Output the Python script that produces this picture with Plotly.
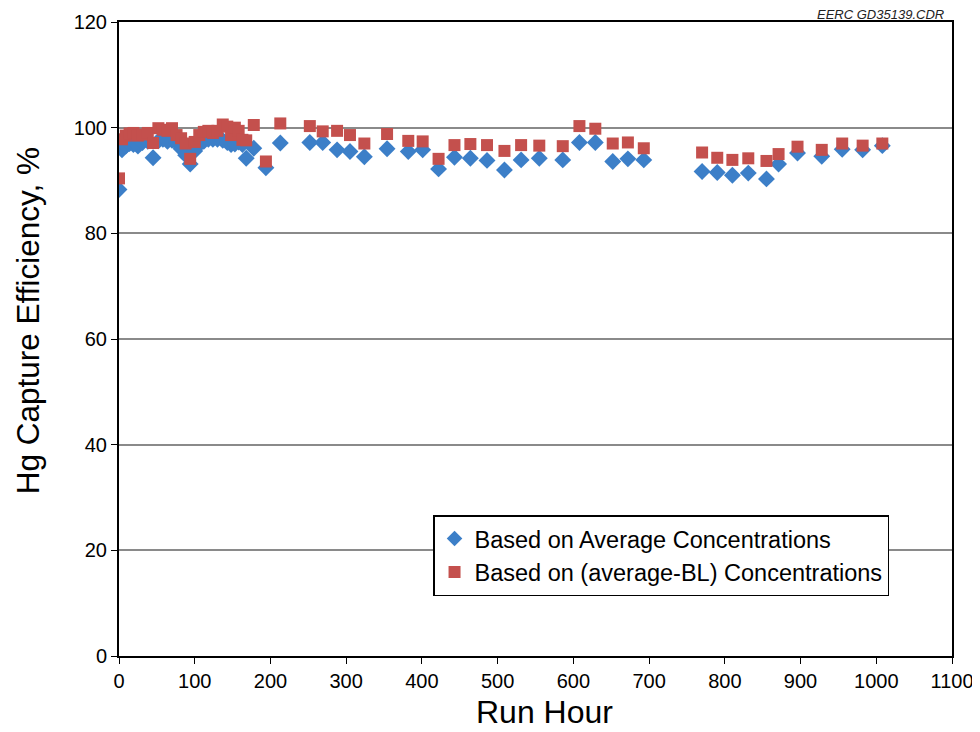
import plotly.graph_objects as go

# Run hours (shared by both series)
run_hour = [0, 4, 9, 14, 19, 25, 31, 38, 45, 52, 58, 64, 70, 76, 82, 88, 94, 100,
            106, 112, 118, 124, 130, 137, 143, 148, 153, 158, 163, 168, 178, 194, 213,
            252, 269, 288, 305, 324, 354, 382, 401, 422, 443, 464, 486, 509, 531, 555,
            586, 608, 629, 652, 672, 693, 770, 790, 810, 831, 855, 871, 896, 928, 955,
            982, 1008]

# Based on average concentrations (%)
eff_avg = [88.3, 95.8, 96.5, 97.0, 96.8, 96.5, 97.2, 97.4, 94.3, 97.5, 97.8, 97.4,
           97.6, 97.2, 96.0, 94.8, 93.1, 95.6, 96.8, 97.4, 97.8, 97.8, 97.8, 97.6,
           97.2, 96.8, 96.9, 97.3, 96.8, 94.2, 96.1, 92.4, 97.1,
           97.2, 97.2, 95.8, 95.5, 94.5, 96.0, 95.5, 95.8, 92.2, 94.4, 94.2, 93.8,
           92.0, 93.9, 94.2, 93.9, 97.2, 97.2, 93.6, 94.1, 93.9, 91.7, 91.5, 91.0,
           91.4, 90.3, 93.1, 95.2, 94.6, 95.9, 95.8, 96.6]

# Based on (average - BL) concentrations (%)
eff_bl = [90.4, 97.8, 98.5, 98.9, 99.0, 98.5, 98.7, 99.0, 97.1, 99.9, 99.6, 99.4,
          99.9, 98.6, 98.0, 97.0, 94.1, 97.3, 98.6, 99.2, 99.4, 99.0, 99.4, 100.6,
          100.2, 98.6, 100.0, 99.4, 97.7, 97.6, 100.5, 93.6, 100.8,
          100.3, 99.3, 99.4, 98.6, 97.0, 98.8, 97.5, 97.4, 94.1, 96.7, 96.9, 96.7,
          95.6, 96.7, 96.6, 96.5, 100.3, 99.8, 97.0, 97.2, 96.1, 95.3, 94.3, 93.9,
          94.2, 93.7, 95.0, 96.4, 95.8, 97.0, 96.6, 97.0]

x_ticks = [0, 100, 200, 300, 400, 500, 600, 700, 800, 900, 1000, 1100]
y_ticks = [0, 20, 40, 60, 80, 100, 120]

BLUE = "#3C7FC8"
RED = "#C4504D"
FONT = "Liberation Sans, Arial, sans-serif"

fig = go.Figure()
fig.add_trace(go.Scatter(
    x=run_hour, y=eff_avg, mode="markers", name="Based on Average Concentrations",
    marker=dict(symbol="diamond", size=13, color=BLUE, line=dict(width=0)),
))
fig.add_trace(go.Scatter(
    x=run_hour, y=eff_bl, mode="markers", name="Based on (average-BL) Concentrations",
    marker=dict(symbol="square", size=12, color=RED, line=dict(width=0)),
))

# page body has an 8px margin, so the figure is sized/offset to compensate
fig.update_layout(
    width=972, height=724,
    margin=dict(l=111, r=28, t=14, b=76, autoexpand=False),
    paper_bgcolor="white", plot_bgcolor="white",
    font=dict(family=FONT, size=20, color="black"),
    showlegend=True,
    legend=dict(
        x=0.377, y=0.222, xanchor="left", yanchor="top",
        bordercolor="black", borderwidth=1.5, bgcolor="white",
        font=dict(family=FONT, size=23.5, color="black"),
        itemsizing="constant", tracegroupgap=0,
    ),
    xaxis=dict(
        range=[0, 1100], tickvals=x_ticks, ticktext=[str(v) for v in x_ticks],
        showgrid=False, zeroline=False, automargin=False,
        showline=True, linecolor="black", linewidth=2, mirror=True,
        ticks="outside", ticklen=6, tickwidth=1, tickcolor="black",
        tickfont=dict(family=FONT, size=20),
    ),
    yaxis=dict(
        range=[0, 120], tickvals=y_ticks, ticktext=[str(v) for v in y_ticks],
        showgrid=True, gridcolor="#8A8A8A", gridwidth=1.5, zeroline=False, automargin=False,
        showline=True, linecolor="black", linewidth=2, mirror=True,
        ticks="outside", ticklen=6, tickwidth=1, tickcolor="black",
        tickfont=dict(family=FONT, size=20),
    ),
    annotations=[
        dict(text="<i>EERC GD35139.CDR</i>", xref="paper", yref="paper",
             x=0.992, y=1.0111, xanchor="right", yanchor="middle", borderpad=0,
             showarrow=False, font=dict(family=FONT, size=13, color="#222")),
        dict(text="Run Hour", xref="paper", yref="paper",
             x=0.511, y=-0.0883, xanchor="center", yanchor="middle",
             showarrow=False, font=dict(family=FONT, size=32, color="black")),
        dict(text="Hg Capture Efficiency, %", xref="paper", yref="paper",
             x=-0.1092, y=0.528, xanchor="center", yanchor="middle", textangle=-90,
             showarrow=False, font=dict(family=FONT, size=31.5, color="black")),
    ],
)

fig.write_html("out.html")
